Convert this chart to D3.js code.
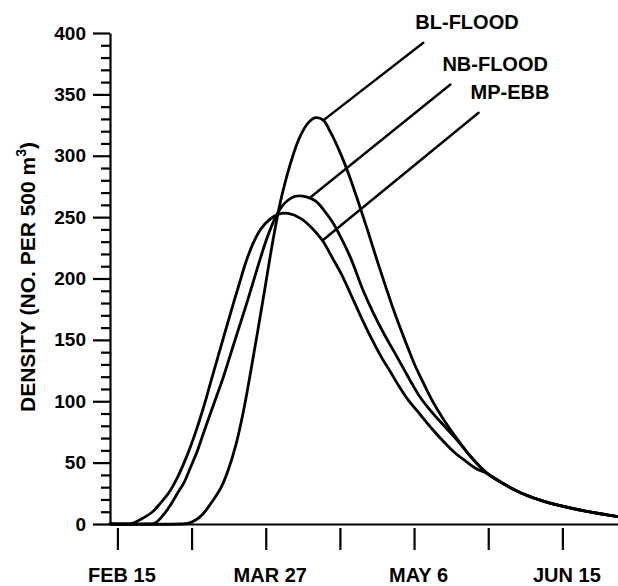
<!DOCTYPE html>
<html lang="en">
<head>
<meta charset="utf-8">
<title>Density</title>
<script src="https://d3js.org/d3.v7.min.js"></script>
<style>
    body { margin: 0; background: #fff; }
    svg text { font-family: "Liberation Sans", Arial, sans-serif; font-weight: bold; fill: #000; }
    .axis path, .axis line { stroke: #000; stroke-width: 2.2; }
    .curve { fill: none; stroke: #000; stroke-width: 2.8; stroke-linejoin: round; stroke-linecap: round; }
    .leader { stroke: #000; stroke-width: 2.4; stroke-linecap: round; }
</style>
</head>
<body>
<div id="chart"></div>
<script>
    // x values are days after Feb 15
    const tickDays = [0, 20, 40, 60, 80, 100, 120];
    const tickLabels = ["FEB 15", "", "MAR 27", "", "MAY 6", "", "JUN 15"];
    const densityTicks = [0, 50, 100, 150, 200, 250, 300, 350, 400];

    const seriesNames = ["BL-FLOOD", "NB-FLOOD", "MP-EBB"];

    const blFlood = [[-2,0],[17,0],[19,0.5],[21,3],[23,8],[25.5,18],[28,30],[30,45],[32,65],[34,92],[36,125],
        [38,160],[40,196],[42,232],[44,263],[46.5,292],[49,314],[51.5,327],[53.5,331],[55.5,329],[57.5,319],
        [60,303],[62.5,284],[65,262],[67.5,239],[70,215],[72.5,192],[75,170],[77.5,150],[80,131],[82.5,115],
        [85,100],[88,85],[91.7,69],[95,56],[99.8,41],[104,33],[108.7,25.5],[114,19.5],[120,14.5],[127,10],[135,6]];

    const nbFlood = [[-2,0],[8,0],[10,0.5],[12,6],[14,14],[16.2,25],[18,34],[19.7,46],[21.5,59],[23.2,74],
        [25.9,97],[28.6,120],[31,143],[33,162],[35.1,182],[37.5,206],[40,230],[42.5,249],[45,261],[48,267],
        [51,266.5],[53.5,263],[55.6,256],[58,246],[60.5,232],[63,216],[66.3,190],[69,172],[71.7,156],[74.5,141],
        [77.1,127],[79.5,114],[81.7,103],[84,94],[86,87],[89,77],[91.7,68],[95.5,54],[99.8,41],[104,33],
        [108.7,25.5],[114,19.5],[120,14.5],[127,10],[135,6]];

    const mpEbb = [[-2,0],[2,0],[4,0.5],[7,5],[9.5,10],[11.6,17],[14,26],[16.2,38],[18,50],[19.7,63],[21,74],
        [22.4,87],[24,103],[25.1,115],[27,135],[29,156],[31.3,180],[33,197],[34.5,212],[36.5,228],[38.6,240],
        [41,248],[43.5,252.5],[46,253],[49.4,249],[52.5,241],[55.3,231],[58.3,215],[60.5,203],[62.8,188],
        [65.5,170],[68.2,153],[71,137],[73.6,124],[76,112],[78.2,102],[81.7,89],[85,77],[88,67],[91,58],
        [94,51],[96.8,45],[99.8,41],[104,33],[108.7,25.5],[114,19.5],[120,14.5],[127,10],[135,6]];

    // leader lines: from a point on the curve to the label
    const leaderFrom = [[55.6, 329], [52, 266], [55.3, 231]];
    const leaderTo = [[82.5, 392], [89.8, 358], [97.4, 335]];

    const width = 618;
    const height = 586;

    const svg = d3.select("#chart")
        .append("svg")
        .attr("width", width)
        .attr("height", height);

    const x = d3.scaleLinear().domain([-2, 135]).range([110, 618]);
    const y = d3.scaleLinear().domain([0, 400]).range([524, 33]);

    // minor ticks every 10
    svg.append("g")
        .attr("class", "axis")
        .attr("transform", "translate(110,0)")
        .call(d3.axisLeft(y).tickValues(d3.range(0, 401, 10).filter(d => d % 50)).tickSize(9).tickFormat(""))
        .call(g => g.select(".domain").remove());

    // major ticks and labels
    svg.append("g")
        .attr("class", "axis y")
        .attr("transform", "translate(110,0)")
        .call(d3.axisLeft(y).tickValues(densityTicks).tickSize(17).tickSizeOuter(0).tickPadding(7))
        .selectAll("text")
            .style("font-size", "19px");

    const xAxis = svg.append("g")
        .attr("class", "axis x")
        .attr("transform", "translate(0,524)")
        .call(d3.axisBottom(x).tickValues(tickDays).tickSize(26).tickSizeOuter(0)
            .tickFormat((d, i) => tickLabels[i]));
    xAxis.selectAll(".tick line").attr("y1", 4);
    xAxis.selectAll(".tick text")
        .attr("y", 58)
        .attr("dy", 0)
        .attr("dx", 4)
        .style("font-size", "20px");

    const line = d3.line()
        .x(d => x(d[0]))
        .y(d => y(d[1]))
        .curve(d3.curveCatmullRom.alpha(0.5));

    svg.selectAll(".curve")
        .data([blFlood, nbFlood, mpEbb])
        .enter()
        .append("path")
            .attr("class", "curve")
            .attr("d", line);

    svg.selectAll(".leader")
        .data(seriesNames)
        .enter()
        .append("line")
            .attr("class", "leader")
            .attr("x1", (d, i) => x(leaderFrom[i][0]))
            .attr("y1", (d, i) => y(leaderFrom[i][1]))
            .attr("x2", (d, i) => x(leaderTo[i][0]))
            .attr("y2", (d, i) => y(leaderTo[i][1]));

    svg.selectAll(".series-label")
        .data(seriesNames)
        .enter()
        .append("text")
            .attr("class", "series-label")
            .attr("x", (d, i) => x(leaderTo[i][0]) - 8)
            .attr("y", (d, i) => y(leaderTo[i][1]) - 14)
            .style("font-size", "20px")
            .text(d => d);

    // y axis title
    const title = svg.append("text")
        .attr("transform", "translate(35,277) rotate(-90)")
        .attr("text-anchor", "middle")
        .style("font-size", "21px");
    title.append("tspan").text("DENSITY (NO. PER 500 m");
    title.append("tspan").attr("dy", -9).style("font-size", "14px").text("3");
    title.append("tspan").attr("dy", 9).text(")");
</script>
</body>
</html>
